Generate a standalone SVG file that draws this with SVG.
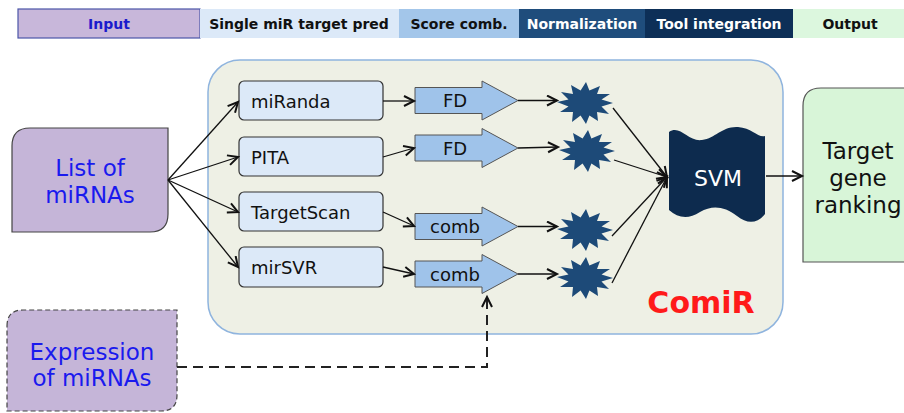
<svg xmlns="http://www.w3.org/2000/svg" width="904" height="413" viewBox="0 0 904 413">
<style>
.hdr{font-family:"DejaVu Sans",sans-serif;font-size:14px;font-weight:bold;text-anchor:middle}
.tool{fill:#dce9f8;stroke:#333;stroke-width:1.2}
.tt{font-family:"DejaVu Sans",sans-serif;font-size:18px;fill:#111}
.blk{fill:#9fc3ea;stroke:#555;stroke-width:1}
.bt{font-family:"DejaVu Sans",sans-serif;font-size:18px;fill:#111;text-anchor:middle}
.big{font-family:"DejaVu Sans",sans-serif;font-size:23px;text-anchor:middle}
.star{fill:#1d4a78}
.con{stroke:#111;stroke-width:1.3;fill:none;marker-end:url(#ah)}
</style>
<defs>
<marker id="ah" markerUnits="userSpaceOnUse" markerWidth="14" markerHeight="14" refX="11" refY="6" orient="auto">
<path d="M1,1 L11,6 L1,11" fill="none" stroke="#111" stroke-width="2"/>
</marker>
<path id="blockArrow" d="M0,-13 L67,-13 L67,-19.5 L103,0 L67,19.5 L67,13 L0,13 Z"/>
<path id="starShape" d="M28,0 L16.5,3.4 L24,11 L12,9 L13,18 L4.4,12.5 L1,21 L-4.4,12.5 L-13,19 L-12,9 L-25,9 L-16.5,3.4 L-28,-1 L-16.5,-3.4 L-24,-11 L-12,-9 L-14,-18 L-4.4,-12.5 L1,-21 L4.4,-12.5 L15,-17 L12,-9 L25,-9 L16.5,-3.4 Z"/>
</defs>
<rect width="904" height="413" fill="#ffffff"/>

<g id="header">
<rect x="18" y="9" width="182" height="29" fill="#c8b7da" stroke="#4b55a8" stroke-width="1.2"/>
<text class="hdr" x="109" y="29" fill="#1a1acc">Input</text>
<rect x="200" y="9" width="199" height="29" fill="#dce9f8"/>
<text class="hdr" x="299" y="29" fill="#111">Single miR target pred</text>
<rect x="399" y="9" width="120" height="29" fill="#a3c6ea"/>
<text class="hdr" x="459" y="29" fill="#111">Score comb.</text>
<rect x="519" y="9" width="126" height="29" fill="#1f4d7c"/>
<text class="hdr" x="582" y="29" fill="#ffffff">Normalization</text>
<rect x="645" y="9" width="148" height="29" fill="#0d2f57"/>
<text class="hdr" x="719" y="29" fill="#ffffff">Tool integration</text>
<rect x="793" y="9" width="111" height="29" fill="#dcf7de"/>
<text class="hdr" x="850" y="29" fill="#111">Output</text>
</g>

<g id="comir">
<rect x="208" y="60" width="575" height="274" rx="32" ry="32" fill="#eef0e5" stroke="#8fb4de" stroke-width="1.5"/>
<text x="701" y="313" font-family="DejaVu Sans,sans-serif" font-size="30" font-weight="bold" fill="#ff1a1a" text-anchor="middle">ComiR</text>
</g>

<g id="list-mirnas">
<path d="M12,146 Q12,128 30,128 L168,128 L168,214 Q168,232 150,232 L12,232 Z" fill="#c5b5d8" stroke="#444" stroke-width="1.2"/>
<text class="big" x="90" y="176" fill="#1a1aee">List of</text>
<text class="big" x="90" y="203" fill="#1a1aee">miRNAs</text>
</g>

<g id="expr-mirnas">
<path d="M7,326 Q7,310 23,310 L177,310 L177,395 Q177,411 161,411 L7,411 Z" fill="#c5b5d8" stroke="#444" stroke-width="1.2" stroke-dasharray="5,3"/>
<text class="big" x="92" y="360" fill="#1a1aee">Expression</text>
<text class="big" x="92" y="386" fill="#1a1aee">of miRNAs</text>
</g>

<g id="miranda"><rect class="tool" x="239" y="81" width="144" height="39" rx="5"/><text class="tt" x="251" y="108">miRanda</text></g>
<g id="pita"><rect class="tool" x="239" y="137" width="144" height="39" rx="5"/><text class="tt" x="251" y="164">PITA</text></g>
<g id="targetscan"><rect class="tool" x="239" y="192" width="144" height="39" rx="5"/><text class="tt" x="251" y="219">TargetScan</text></g>
<g id="mirsvr"><rect class="tool" x="239" y="247" width="144" height="40" rx="5"/><text class="tt" x="251" y="274">mirSVR</text></g>

<g id="fd1"><use href="#blockArrow" class="blk" x="415" y="100.5"/><text class="bt" x="455" y="107">FD</text></g>
<g id="fd2"><use href="#blockArrow" class="blk" x="415" y="148"/><text class="bt" x="455" y="155">FD</text></g>
<g id="comb1"><use href="#blockArrow" class="blk" x="415" y="226.5"/><text class="bt" x="455" y="233">comb</text></g>
<g id="comb2"><use href="#blockArrow" class="blk" x="415" y="274"/><text class="bt" x="455" y="281">comb</text></g>

<g id="star1"><use href="#starShape" class="star" x="585" y="103"/></g>
<g id="star2"><use href="#starShape" class="star" x="587" y="151"/></g>
<g id="star3"><use href="#starShape" class="star" x="585" y="230"/></g>
<g id="star4"><use href="#starShape" class="star" x="585" y="278"/></g>

<g id="svm">
<path d="M669,132 C680,124 688,142 702,140 C716,138 722,126 738,127 C752,128 758,138 765,136 L765,214 C757,224 747,224 737,216 C724,206 712,205 700,212 C688,220 678,218 669,210 Z" fill="#0d2b4e"/>
<text x="718" y="186" font-family="DejaVu Sans,sans-serif" font-size="22" fill="#ffffff" text-anchor="middle">SVM</text>
</g>

<g id="target-ranking">
<path d="M803,106 Q803,88 821,88 L910,88 L910,262 L803,262 Z" fill="#d8f5d8" stroke="#555" stroke-width="1.2"/>
<text class="big" x="858" y="159" fill="#111">Target</text>
<text class="big" x="858" y="186" fill="#111">gene</text>
<text class="big" x="858" y="213" fill="#111">ranking</text>
</g>

<g id="connectors">
<path class="con" d="M168,180 L238,102"/>
<path class="con" d="M168,180 L238,157"/>
<path class="con" d="M168,180 L238,212"/>
<path class="con" d="M168,180 L238,267"/>
<path class="con" d="M383,101 L414,101"/>
<path class="con" d="M383,157 L414,148"/>
<path class="con" d="M383,212 L414,226"/>
<path class="con" d="M383,267 L414,274"/>
<path class="con" d="M518,100.5 L557,100.5"/>
<path class="con" d="M518,148 L558,147"/>
<path class="con" d="M518,226.5 L557,226.5"/>
<path class="con" d="M518,274 L557,274"/>
<path class="con" d="M613,108 L667,177"/>
<path class="con" d="M614,160 L667,177"/>
<path class="con" d="M612,236 L667,177"/>
<path class="con" d="M612,283 L667,177"/>
<path class="con" d="M766,176 L802,176"/>
<path d="M177,367 L487,367 L487,297" fill="none" stroke="#222" stroke-width="2" stroke-dasharray="10,6" marker-end="url(#ah)"/>
</g>
</svg>
